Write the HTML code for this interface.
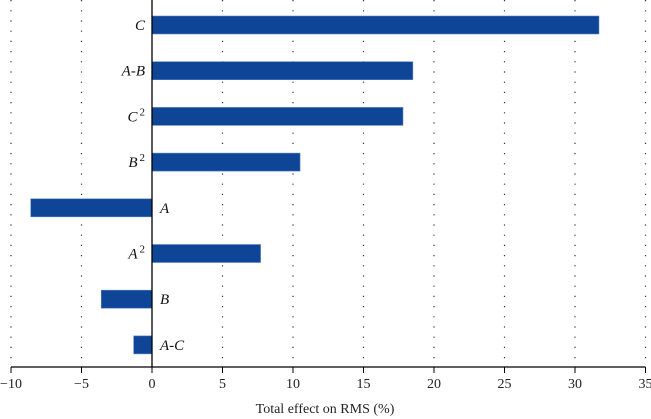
<!DOCTYPE html>
<html><head><meta charset="utf-8"><style>
body{margin:0;background:#fff;}
svg{display:block;font-family:"Liberation Serif",serif;}
</style></head><body>
<svg id="chart" width="651" height="419"></svg>
<script>
const categories=["C","A-B","C2","B2","A","A2","B","A-C"];
const values=[31.7,18.5,17.8,10.5,-8.6,7.7,-3.6,-1.3];
const ticks=[-10,-5,0,5,10,15,20,25,30,35];
const NS="http://www.w3.org/2000/svg";
const svg=document.getElementById("chart");
const x=v=>152+(v)*14.1;
const yc=i=>25+i*45.7;
const axisY=367;
function mk(t,a){const e=document.createElementNS(NS,t);for(const k in a)e.setAttribute(k,a[k]);svg.appendChild(e);return e;}
ticks.forEach(t=>{
  if(t!==0){const g=mk("line",{x1:x(t),x2:x(t),y1:0,y2:axisY,stroke:"#333","stroke-width":1.2,"stroke-dasharray":"1.2 9"});
  
  }
  const tk=mk("line",{x1:x(t),x2:x(t),y1:axisY,y2:axisY+6,stroke:"#000","stroke-width":1});
  
  
  const lb=mk("text",{x:x(t),y:axisY+21,"text-anchor":"middle","font-size":14,fill:"#222"});
  lb.textContent=t<0?"\u2212"+(-t):String(t);
  
  
});
categories.forEach((c,i)=>{
  const v=values[i];
  const r=mk("rect",{x:Math.min(x(0),x(v)),y:yc(i)-9,width:Math.abs(x(v)-x(0)),height:18,fill:"#0e4597",stroke:"#5b84c4","stroke-width":0.6});
  
  
  const pos=v>=0;
  const t=mk("text",{x:pos?x(0)-7:x(0)+8,y:yc(i)+5,"text-anchor":pos?"end":"start","font-size":15,"font-style":"italic",fill:"#111"});
  if(c.endsWith("2")){
    t.textContent=c[0];
    const s=document.createElementNS(NS,"tspan");
    s.setAttribute("dy","-6");s.setAttribute("dx","2");s.setAttribute("font-size","11");s.setAttribute("font-style","normal");
    s.textContent="2";t.appendChild(s);
  } else t.textContent=c;
  
  
});
const va=mk("line",{x1:x(0),x2:x(0),y1:0,y2:axisY,stroke:"#000","stroke-width":1.3});


const ax=mk("line",{x1:x(-10),x2:x(35),y1:axisY,y2:axisY,stroke:"#000","stroke-width":1.2});


const tt=mk("text",{x:325,y:413,"text-anchor":"middle","font-size":14,fill:"#222"});
tt.textContent="Total effect on RMS (%)";


</script>
</body></html>
